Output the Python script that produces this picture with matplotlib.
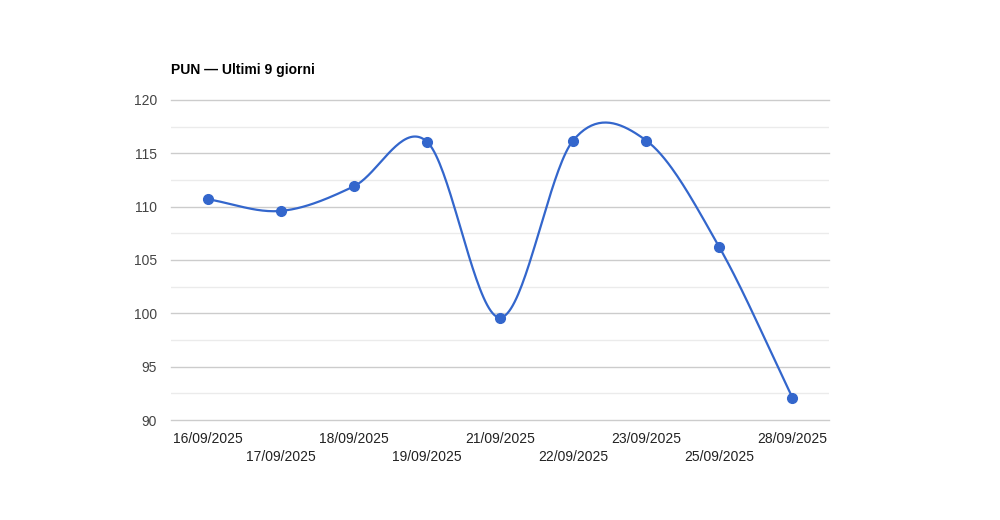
import numpy as np
import matplotlib
matplotlib.use("Agg")
import matplotlib.pyplot as plt

# data
dates = ["16/09/2025", "17/09/2025", "18/09/2025", "19/09/2025", "21/09/2025",
         "22/09/2025", "23/09/2025", "25/09/2025", "28/09/2025"]
pun = [110.7, 109.6, 111.9, 116.1, 99.6, 116.2, 116.2, 106.2, 92.1]
title = "PUN — Ultimi 9 giorni"
yticks = [90, 95, 100, 105, 110, 115, 120]

BLUE = "#3366cc"
plt.rcParams["font.family"] = ["Liberation Sans", "DejaVu Sans"]


def smooth(x, y, n=40):
    # catmull-rom style curve, like curveType 'function'
    x = np.asarray(x, float)
    y = np.asarray(y, float)
    m = np.zeros_like(y)
    m[1:-1] = (y[2:] - y[:-2]) / 2
    m[0] = y[1] - y[0]
    m[-1] = y[-1] - y[-2]
    xs, ys = [], []
    for i in range(len(y) - 1):
        t = np.linspace(0, 1, n, endpoint=False)
        h00 = 2 * t**3 - 3 * t**2 + 1
        h10 = t**3 - 2 * t**2 + t
        h01 = -2 * t**3 + 3 * t**2
        h11 = t**3 - t**2
        ys.append(h00 * y[i] + h10 * m[i] + h01 * y[i + 1] + h11 * m[i + 1])
        xs.append(x[i] + t * (x[i + 1] - x[i]))
    xs.append([x[-1]])
    ys.append([y[-1]])
    return np.concatenate(xs), np.concatenate(ys)


fig = plt.figure(figsize=(10, 5.2), dpi=100)
ax = fig.add_axes([0.171, 0.1923, 0.658, 0.6154])

x = np.arange(len(dates))
sx, sy = smooth(x, pun)
ax.plot(sx, sy, color=BLUE, lw=1.6, zorder=3, solid_capstyle="round")
ax.plot(x, pun, "o", color=BLUE, ms=7, zorder=4, clip_on=False)

ax.set_xlim(-0.5, len(dates) - 0.5)
ax.set_ylim(90, 120)

# gridlines
for v in np.arange(92.5, 120, 5):
    ax.axhline(v, color="#ebebeb", lw=1, zorder=1)
for v in yticks:
    ax.axhline(v, color="#cccccc", lw=1, zorder=2, clip_on=False)

ax.set_yticks(yticks)
ax.set_yticklabels([str(v) for v in yticks])
ax.tick_params(axis="y", length=0, pad=10, labelsize=10, labelcolor="#444444")
ax.set_xticks([])
for s in ax.spines.values():
    s.set_visible(False)

# staggered date labels
for i, d in enumerate(dates):
    off = -19 if i % 2 == 0 else -37
    ax.annotate(d, xy=(i, 0), xycoords=("data", "axes fraction"),
                xytext=(0, off), textcoords="offset pixels",
                ha="center", va="center", fontsize=10, color="#222222")

fig.text(0.171, 1 - 70 / 520, title, ha="left", va="center",
         fontsize=10, fontweight="bold", color="#000000")

fig.savefig("out.png", dpi=100, facecolor="white")
